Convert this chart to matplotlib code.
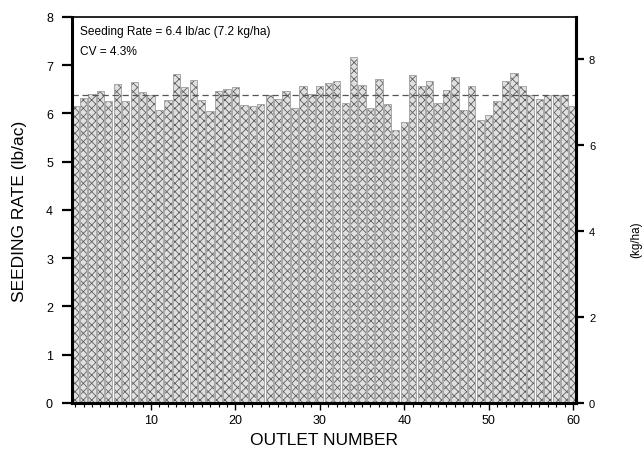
"""Seeding rate per outlet, hatched bar chart with kg/ha axis on the right."""
import matplotlib
matplotlib.use("Agg")
import matplotlib.pyplot as plt
from matplotlib.ticker import MultipleLocator

plt.rcParams["font.family"] = ["Liberation Sans", "DejaVu Sans"]
plt.rcParams["hatch.linewidth"] = 0.6

# lb/ac per outlet
outlets = list(range(1, 61))
rate = [6.16, 6.32, 6.40, 6.47, 6.26, 6.62, 6.25, 6.66, 6.45, 6.38,
        6.07, 6.27, 6.82, 6.54, 6.69, 6.27, 6.05, 6.47, 6.50, 6.55,
        6.18, 6.16, 6.19, 6.38, 6.31, 6.47, 6.12, 6.58, 6.41, 6.58,
        6.64, 6.67, 6.21, 7.17, 6.59, 6.11, 6.72, 6.19, 5.65, 5.83,
        6.79, 6.57, 6.67, 6.22, 6.49, 6.76, 6.07, 6.57, 5.87, 5.96,
        6.26, 6.68, 6.83, 6.56, 6.38, 6.31, 6.38, 6.38, 6.38, 6.15]
mean_rate = 6.38
left_ticks = [0, 1, 2, 3, 4, 5, 6, 7, 8]
right_ticks = [0, 2, 4, 6, 8]
x_ticks = [10, 20, 30, 40, 50, 60]
LB_TO_KG = 1.12085
label1 = "Seeding Rate = 6.4 lb/ac (7.2 kg/ha)"
label2 = "CV = 4.3%"

fig = plt.figure(figsize=(6.43, 4.52), dpi=100)
ax = fig.add_axes([0.1115, 0.1062, 0.785, 0.854])

ax.bar(outlets, rate, width=0.86, color="#e0e0e0", edgecolor="#5e5e5e",
       hatch="xxxx", linewidth=0)
ax.bar(outlets, rate, width=0.86, fill=False, edgecolor="#a8a8a8", linewidth=0.7)
ax.axhline(mean_rate, color="#555555", ls=(0, (5, 3)), lw=0.9)

ax.set_xlim(0.6, 60.4)
ax.set_ylim(0, 8)
ax.set_xticks(x_ticks)
ax.xaxis.set_minor_locator(MultipleLocator(1))
ax.set_yticks(left_ticks)

for side in ["left", "bottom", "right"]:
    ax.spines[side].set_linewidth(2.2)
ax.spines["top"].set_linewidth(1.2)

ax.tick_params(axis="y", direction="out", length=7.5, width=1.6,
               labelsize=9, pad=6)
ax.tick_params(axis="x", which="major", direction="out", length=5, width=1,
               labelsize=9, pad=3)
ax.tick_params(axis="x", which="minor", direction="out", length=3, width=0.8)

sec = ax.secondary_yaxis("right", functions=(lambda v: v * LB_TO_KG,
                                             lambda v: v / LB_TO_KG))
sec.set_yticks(right_ticks)
sec.spines["right"].set_linewidth(2.2)
sec.tick_params(direction="out", length=6, width=1.6, labelsize=8, pad=3)

ax.text(0.016, 0.964, label1, transform=ax.transAxes, fontsize=8.6,
        va="center", ha="left")
ax.text(0.016, 0.912, label2, transform=ax.transAxes, fontsize=8.6,
        va="center", ha="left")

ax.set_xlabel("OUTLET NUMBER", fontsize=12.5, labelpad=4)
ax.set_ylabel("SEEDING RATE (lb/ac)", fontsize=12.5, labelpad=14)
fig.text(636 / 643, 1 - 240 / 452, "(kg/ha)", rotation=90, fontsize=8.4,
         ha="center", va="center")

fig.savefig("out.png", dpi=100)
plt.close(fig)
